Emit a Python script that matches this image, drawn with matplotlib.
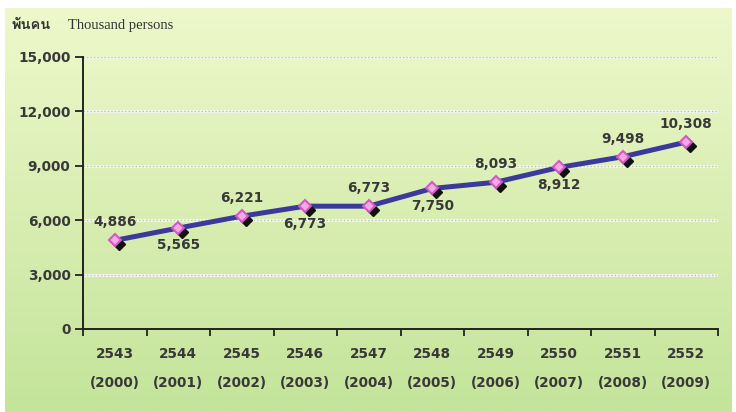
import numpy as np
import matplotlib
matplotlib.use("Agg")
import matplotlib.pyplot as plt
from matplotlib import font_manager as fm
from matplotlib.ft2font import FT2Font
import matplotlib.transforms as mtransforms

# ---- data ----
years_be = ["2543", "2544", "2545", "2546", "2547", "2548", "2549", "2550", "2551", "2552"]
years_ce = ["2000", "2001", "2002", "2003", "2004", "2005", "2006", "2007", "2008", "2009"]
values = [4886, 5565, 6221, 6773, 6773, 7750, 8093, 8912, 9498, 10308]
label_pos = ["above", "below", "above", "below", "above", "below", "above", "below", "above", "above"]
y_ticks = [0, 3000, 6000, 9000, 12000, 15000]
unit_thai = "พันคน"
unit_en = "Thousand persons"

# find a font with Thai glyphs
thai_font = None
for f in fm.fontManager.ttflist:
    try:
        if 0x0E1E in FT2Font(f.fname).get_charmap():
            thai_font = f.name
            break
    except Exception:
        pass

W, H = 736, 412
fig = plt.figure(figsize=(W / 100, H / 100), dpi=100)
fig.patch.set_facecolor("white")

# background gradient panel
bg = fig.add_axes([5 / W, 0, (732 - 5) / W, (H - 8) / H], zorder=0)
top = np.array([0xee, 0xf8, 0xcb]) / 255
bot = np.array([0xc4, 0xe4, 0x9a]) / 255
t = np.linspace(0, 1, 256)[:, None]
grad = top[None, :] * (1 - t) + bot[None, :] * t
bg.imshow(grad[:, None, :], aspect="auto", extent=[0, 1, 0, 1])
bg.axis("off")

ax = fig.add_axes([83 / W, (H - 329) / H, (718 - 83) / W, (329 - 57) / H], zorder=1)
ax.patch.set_alpha(0)

n = len(values)
x = np.arange(n)
ax.set_xlim(-0.5, n - 0.5)
ax.set_ylim(0, 15000)

tick_font = dict(family="DejaVu Sans", fontsize=9.8, color="#383838", fontweight="bold")

# grid
for v in y_ticks[1:]:
    ax.axhline(v, color="#f4f6ee", lw=2.2, zorder=1)
    ax.axhline(v, color="#b9c2b0", lw=1.0, ls=(0, (1, 1.5)), zorder=1)

ax.plot(x, values, color="#3b3a9c", lw=3.6, zorder=3, solid_capstyle="round")
shadow = mtransforms.offset_copy(ax.transData, fig=fig, x=4, y=-4, units="dots")
ax.plot(x, values, ls="none", marker="D", ms=6.5, mfc="#111111", mec="#111111",
        transform=shadow, zorder=4)
ax.plot(x, values, ls="none", marker="D", ms=6.5, mfc="#f4a8e6", mec="#d458c4",
        mew=1.5, zorder=5)

for xi, v, pos in zip(x, values, label_pos):
    dy = 13 if pos == "above" else -12.5
    ax.annotate(f"{v:,}", (xi, v), xytext=(0, dy), textcoords="offset points",
                ha="center", va="center", zorder=6, **tick_font)

for s in ["top", "right"]:
    ax.spines[s].set_visible(False)
for s in ["left", "bottom"]:
    ax.spines[s].set_color("#222222")
    ax.spines[s].set_linewidth(1.4)

ax.set_yticks(y_ticks)
ax.set_yticklabels([f"{v:,}" for v in y_ticks], **tick_font)
ax.tick_params(axis="y", length=6, width=1.3, color="#222222", pad=3)

ax.set_xticks(np.arange(-0.5, n, 1.0))
ax.set_xticklabels([])
ax.set_xticks(x, minor=True)
ax.set_xticklabels([f"{a}\n({b})" for a, b in zip(years_be, years_ce)], minor=True,
                   linespacing=2.4, **tick_font)
ax.tick_params(axis="x", which="major", length=5, width=1.3, color="#222222")
ax.tick_params(axis="x", which="minor", length=0, pad=13)

fams = [thai_font, "DejaVu Sans"] if thai_font else ["DejaVu Sans"]
fig.text(12 / W, 1 - 25 / H, unit_thai, family=fams, fontsize=10.5, color="#333333",
         fontweight="bold", va="center", ha="left")
fig.text(68 / W, 1 - 25 / H, unit_en, family="Liberation Serif", fontsize=10.5,
         color="#333333", va="center", ha="left")

fig.savefig("out.png", dpi=100, facecolor=fig.get_facecolor())
